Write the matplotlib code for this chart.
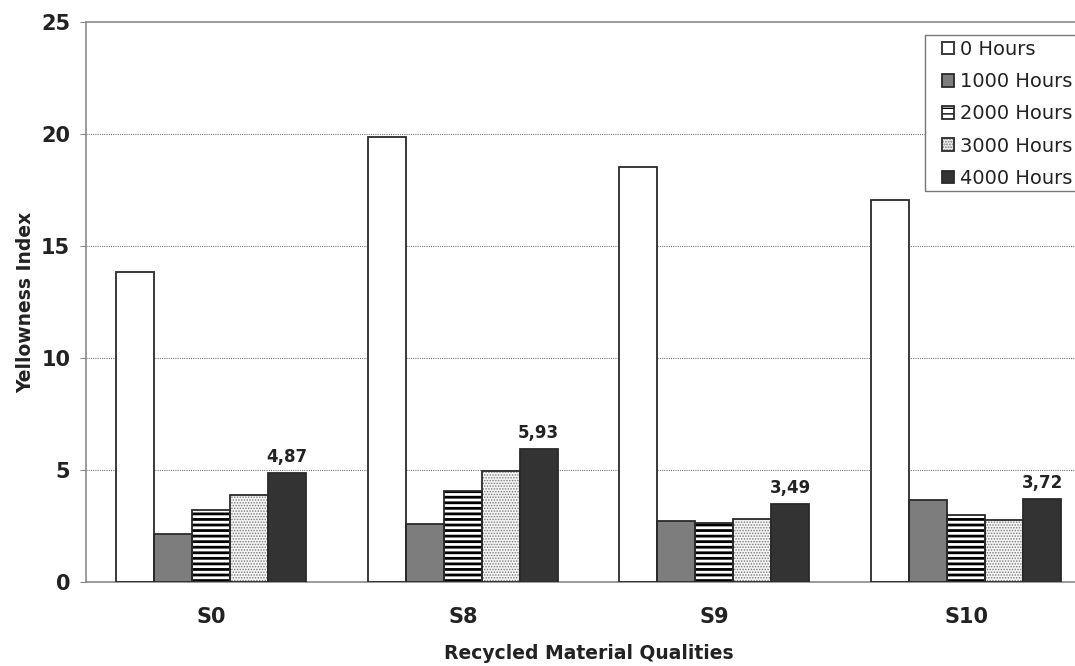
import matplotlib
matplotlib.use("Agg")
import matplotlib.pyplot as plt
from matplotlib.patches import Rectangle
import numpy as np

categories = ["S0", "S8", "S9", "S10"]
series_names = ["0 Hours", "1000 Hours", "2000 Hours", "3000 Hours", "4000 Hours"]
hours_0 = [13.85, 19.85, 18.54, 17.05]
hours_1000 = [2.13, 2.58, 2.73, 3.65]
hours_2000 = [3.20, 4.06, 2.62, 2.98]
hours_3000 = [3.87, 4.95, 2.83, 2.76]
hours_4000 = [4.87, 5.93, 3.49, 3.72]
yticks = [0, 5, 10, 15, 20, 25]

series = [hours_0, hours_1000, hours_2000, hours_3000, hours_4000]
# (facecolor, hatch, hatchcolor, hatch linewidth)
styles = [
    ("white", None, None, None),
    ("#7d7d7d", None, None, None),
    ("white", "---", "black", 2.0),
    ("#f4f4f4", "......", "#7a7a7a", 0.7),
    ("#333333", None, None, None),
]

plt.rcParams["font.family"] = ["DejaVu Sans"]
fig = plt.figure(figsize=(10.75, 6.66), dpi=100)
ax = fig.add_axes([86 / 1075, 1 - 582 / 666, 1006 / 1075, 560 / 666])

x = np.arange(len(categories))
w = 0.151
handles = []
for i, (vals, (fc, hatch, hc, hlw)) in enumerate(zip(series, styles)):
    pos = x + (i - 2) * w
    if hatch:
        with plt.rc_context({"hatch.linewidth": hlw}):
            fill = ax.bar(pos, vals, w, color=fc, edgecolor=hc, hatch=hatch,
                          linewidth=0, zorder=2)
    else:
        fill = ax.bar(pos, vals, w, color=fc, linewidth=0, zorder=2)
    outline = ax.bar(pos, vals, w, fill=False, edgecolor="#2a2a2a",
                     linewidth=1.3, zorder=3)
    handles.append((fill[0], outline[0]))

# value labels for 4000 hours
for xi, v in zip(x + 2 * w, hours_4000):
    ax.annotate(f"{v:.2f}".replace(".", ","), (xi, v), xytext=(0, 8),
                textcoords="offset points", ha="center", va="baseline",
                fontsize=12, fontweight="bold", color="#222222")

ax.set_xlim(-0.497, 3.5)
ax.set_ylim(0, 25)
ax.set_yticks(yticks)
ax.set_yticklabels([str(t) for t in yticks], fontsize=15, fontweight="bold",
                   color="#222222")
ax.set_xticks(x)
ax.set_xticklabels(categories, fontsize=15, fontweight="bold", color="#222222")
ax.tick_params(axis="x", length=0, pad=18)
ax.tick_params(axis="y", length=6 * 0.72, pad=7, color="#888888", direction="out")

for yv in [5, 10, 15, 20]:
    ax.axhline(yv, color="#777777", linestyle=(0, (1, 1)), linewidth=0.8, zorder=1)

for s in ["top", "left", "bottom"]:
    ax.spines[s].set_color("#8a8a8a")
    ax.spines[s].set_linewidth(1.2)
ax.spines["right"].set_visible(False)

ax.set_xlabel("Recycled Material Qualities", fontsize=13.5, fontweight="bold",
              color="#222222", labelpad=12)
ax.set_ylabel("Yellowness Index", fontsize=13.5, fontweight="bold",
              color="#222222", labelpad=4)

# legend box (drawn separately, extends past the right edge like the reference)
fig.patches.append(Rectangle((925 / 1075, 1 - 191 / 666), 200 / 1075, 156 / 666,
                             transform=fig.transFigure, facecolor="white",
                             edgecolor="#777777", linewidth=1.0, zorder=4))
leg = fig.legend(handles, series_names, loc="upper left",
                 bbox_to_anchor=(938 / 1075, 1 - 36 / 666),
                 fontsize=14, frameon=False,
                 handlelength=0.62, handleheight=0.62,
                 handletextpad=0.3, labelspacing=0.68, borderpad=0.2,
                 borderaxespad=0)
leg.set_zorder(5)
for t in leg.get_texts():
    t.set_color("#222222")

fig.savefig("out.png", dpi=100)
